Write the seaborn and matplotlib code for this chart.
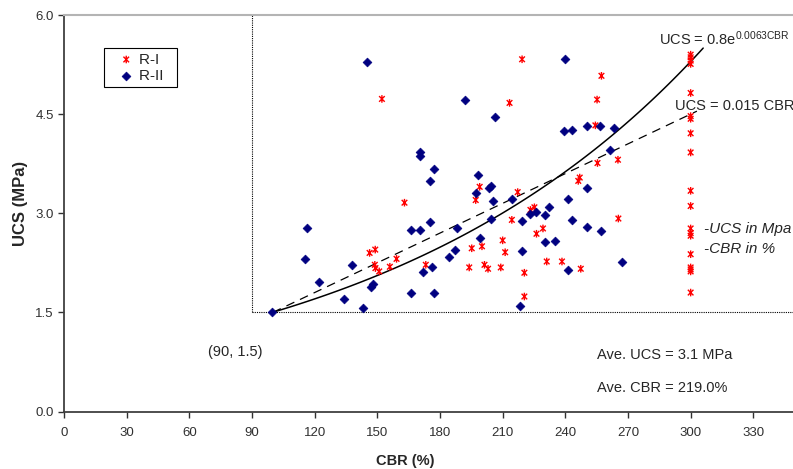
import numpy as np
import pandas as pd
import seaborn as sns
import matplotlib.pyplot as plt
from matplotlib.path import Path

# R-I samples (CBR %, UCS MPa)
r1_cbr = [146.3, 149.0, 148.8, 149.1, 150.9, 156.0, 159.2, 163.0, 152.2, 173.2,
          195.2, 200.1, 194.0, 201.3, 203.0, 199.0, 197.1, 209.1, 210.0, 211.2,
          214.4, 217.2, 213.3, 219.3, 220.4, 220.4, 223.3, 225.2, 226.2, 229.3,
          231.1, 238.4, 246.9, 246.2, 247.4, 255.4, 254.4, 255.2, 257.3, 265.2,
          265.4,
          300, 300, 300, 300, 300, 300, 300, 300, 300, 300,
          300, 300, 300, 300, 300, 300, 300, 300, 300]
r1_ucs = [2.40, 2.45, 2.22, 2.17, 2.12, 2.19, 2.31, 3.16, 4.73, 2.22,
          2.47, 2.50, 2.18, 2.22, 2.16, 3.40, 3.20, 2.18, 2.59, 2.41,
          2.90, 3.32, 4.67, 5.33, 2.10, 1.74, 3.05, 3.09, 2.69, 2.77,
          2.27, 2.27, 3.54, 3.49, 2.16, 3.76, 4.33, 4.72, 5.08, 3.81,
          2.92,
          5.40, 5.36, 5.31, 5.26, 4.82, 4.47, 4.43, 4.21, 3.92, 3.34,
          3.11, 2.77, 2.70, 2.66, 2.38, 2.18, 2.15, 2.12, 1.80]

# R-II samples
r2_cbr = [99.8, 116.1, 115.2, 122.0, 138.1, 134.1, 143.1, 147.2, 148.0, 145.0,
          177.2, 175.1, 175.1, 166.0, 170.2, 188.2, 198.2, 197.1, 203.3, 204.3,
          205.3, 204.2, 214.4, 219.3, 223.3, 226.2, 230.1, 232.1, 230.1, 219.3,
          218.3, 199.2, 187.2, 184.2, 176.2, 172.1, 166.0, 177.2, 250.6, 241.3,
          243.4, 250.6, 257.3, 235.3, 241.3, 267.3, 240.0, 239.2, 243.4, 250.2,
          256.5, 263.3, 261.4, 192.2, 206.2, 170.2, 170.2]
r2_ucs = [1.50, 2.77, 2.31, 1.96, 2.22, 1.70, 1.57, 1.89, 1.93, 5.29,
          3.67, 3.49, 2.87, 2.75, 2.75, 2.77, 3.58, 3.31, 3.38, 3.41,
          3.18, 2.91, 3.21, 2.89, 2.99, 3.02, 2.97, 3.09, 2.57, 2.43,
          1.60, 2.62, 2.44, 2.34, 2.19, 2.11, 1.79, 1.79, 3.38, 3.21,
          2.90, 2.79, 2.73, 2.58, 2.14, 2.26, 5.33, 4.25, 4.26, 4.32,
          4.32, 4.29, 3.96, 4.71, 4.45, 3.92, 3.87]

# fitted relations shown on the chart
exp_a, exp_b = 0.8, 0.0063
lin_k = 0.015
fit_start, exp_end, lin_end = 100, 306, 303

x_ticks = [0, 30, 60, 90, 120, 150, 180, 210, 240, 270, 300, 330]
y_ticks = [0.0, 1.5, 3.0, 4.5, 6.0]

sns.set_style('white')
plt.rcParams['font.family'] = ['Liberation Sans', 'DejaVu Sans']
plt.rcParams['mathtext.default'] = 'regular'

df1 = pd.DataFrame({'CBR': r1_cbr, 'UCS': r1_ucs})
df2 = pd.DataFrame({'CBR': r2_cbr, 'UCS': r2_ucs})

# excel style star: x with a vertical bar
star = Path([(-1, -1), (1, 1), (-1, 1), (1, -1), (0, -1.35), (0, 1.35)],
            [Path.MOVETO, Path.LINETO] * 3)

fig = plt.figure(figsize=(7.93, 4.69), dpi=100)
ax = fig.add_axes([0.0807, 0.1226, 0.9193, 0.8454])

sns.scatterplot(data=df1, x='CBR', y='UCS', marker=star, s=30,
                facecolor='none', edgecolor='#ff0000', linewidth=1.0,
                label='R-I  ', ax=ax, zorder=3)
sns.scatterplot(data=df2, x='CBR', y='UCS', marker='D', s=20,
                color='#000080', edgecolor='#000080', linewidth=0.5,
                label='R-II  ', ax=ax, zorder=3)

xe = np.linspace(fit_start, exp_end, 100)
sns.lineplot(x=xe, y=exp_a * np.exp(exp_b * xe), color='black', lw=1.1, ax=ax)
xl = np.array([fit_start, lin_end])
ax.plot(xl, lin_k * xl, color='black', lw=0.9, ls=(0, (7, 5)))

# dotted frame from (90, 1.5)
ax.vlines(90, 1.5, 6.0, colors='black', linestyles=(0, (1, 1)), lw=0.8)
ax.hlines(1.5, 90, 349, colors='black', linestyles=(0, (1, 1)), lw=0.8)

ax.set_xlim(0, 349)
ax.set_ylim(0, 6.0)
ax.set_xticks(x_ticks)
ax.set_yticks(y_ticks)
ax.set_yticklabels([f'{v:.1f}' for v in y_ticks])
ax.tick_params(labelsize=9.5, length=4, width=1, colors='#303030',
               bottom=True, left=True, direction='out')
ax.tick_params(axis='x', pad=7)
for side in ['left', 'bottom']:
    ax.spines[side].set_color('#404040')
    ax.spines[side].set_linewidth(1.3)
ax.spines['top'].set_color('#b4b4b4')
ax.spines['top'].set_linewidth(1.5)
ax.spines['right'].set_visible(False)

ax.set_xlabel('CBR (%)', fontsize=10.5, fontweight='bold')
ax.xaxis.set_label_coords(0.468, -0.107)
ax.set_ylabel('UCS (MPa)', fontsize=12, fontweight='bold')
ax.yaxis.set_label_coords(-0.049, 0.526)

ax.text(69, 0.9, '(90, 1.5)', fontsize=10.5, va='center')
ax.text(255.4, 0.86, 'Ave. UCS = 3.1 MPa', fontsize=10.5, va='center')
ax.text(255.4, 0.36, 'Ave. CBR = 219.0%', fontsize=10.5, va='center')
ax.text(306.5, 2.76, '-UCS in Mpa', fontsize=11, style='italic', va='center')
ax.text(306.5, 2.46, '-CBR in %', fontsize=11, style='italic', va='center')
ax.text(285.0, 5.64, 'UCS = 0.8e$^{0.0063CBR}$', fontsize=10.5, va='center')
ax.text(292.5, 4.62, 'UCS = 0.015 CBR', fontsize=10.5, va='center')

leg = ax.legend(loc='upper left', bbox_to_anchor=(0.055, 0.917), fontsize=11,
                frameon=True, fancybox=False, edgecolor='black', framealpha=1,
                handletextpad=-0.3, borderpad=0.3, labelspacing=0.15,
                handlelength=2.3, borderaxespad=0)
leg.get_frame().set_linewidth(0.8)

fig.savefig('out.png', dpi=100)
